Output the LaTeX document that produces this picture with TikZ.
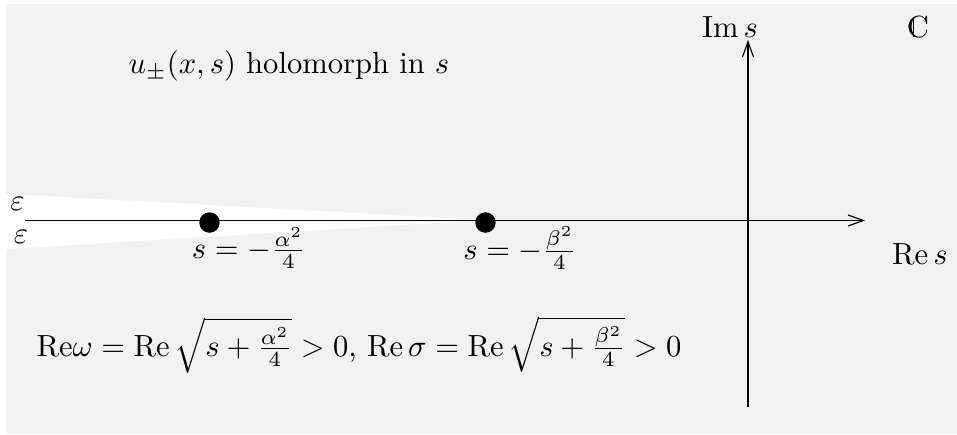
\documentclass[tikz,border=0pt]{standalone}
\usepackage{amsmath,amssymb}
\usetikzlibrary{arrows.meta}
\definecolor{bg}{HTML}{F2F2F2}
\newcommand{\dsC}{\mbox{\rlap{\hskip0.2em\vrule height 0.64em depth -0.03em width 0.04em}C}}
\begin{document}
\begin{tikzpicture}[x=0.327pt,y=-0.327pt,
  axis/.style={line width=0.38pt,-{Straight Barb[length=5pt,width=3.6pt]}},
  pole/.style={circle,fill=black,inner sep=0pt,minimum size=6.7pt},
  lab/.style={inner sep=0pt}]
\useasboundingbox (0,0) rectangle (957,434);
\fill[bg] (6,4) rectangle (957,434);
\fill[white] (6,194) -- (484,220) -- (6,249) -- cycle;
\coordinate (xl) at (25,220.5);
\coordinate (xr) at (865,220.5);
\coordinate (yb) at (748,407);
\coordinate (yt) at (748,40);
\draw[axis] (xl) -- (xr);
\draw[axis] (yb) -- (yt);
\node[pole] (pa) at (209.5,222.5) {};
\node[pole] (pb) at (485.5,222.5) {};
\node[lab] (la) at (249,248) {$s=-\frac{\alpha^2}{4}$};
\node[lab] (lb) at (520,248) {$s=-\frac{\beta^2}{4}$};
\node[lab] (eu) at (17.5,204) {$\varepsilon$};
\node[lab] (ed) at (21,237) {$\varepsilon$};
\node[lab] (re) at (920,254) {$\operatorname{Re} s$};
\node[lab] (im) at (730,27) {$\operatorname{Im} s$};
\node[lab] (cc) at (918,27) {\dsC};
\node[lab] (hol) at (289,66) {$u_\pm(x,s)$ holomorph in $s$};
\node[lab] (cond) at (359,345) {$\mathrm{Re}\omega=\operatorname{Re}\sqrt{s+\frac{\alpha^2}{4}}>0$, $\operatorname{Re}\sigma=\operatorname{Re}\sqrt{s+\frac{\beta^2}{4}}>0$};
\end{tikzpicture}
\end{document}
